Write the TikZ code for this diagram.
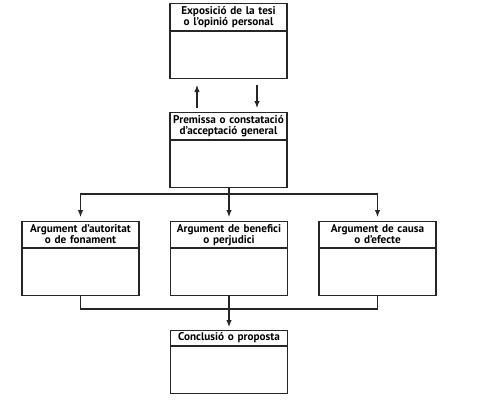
\documentclass[tikz,border=0pt]{standalone}
\usepackage{fontspec}
\setmainfont{PT Sans}
\usetikzlibrary{arrows.meta,calc}
\tikzset{
  box/.style={draw=black!85, line width=1.05pt, minimum width=117pt, inner sep=0pt, anchor=north},
  head/.style={anchor=north, text width=115pt, align=center, inner sep=0pt, font=\bfseries\fontsize{11.2}{11.2}\selectfont},
  link/.style={draw=black!85, line width=1.05pt},
  arr/.style={link, -{Latex[length=7pt,width=5.5pt]}},
}
\begin{document}
\begin{tikzpicture}[x=1pt,y=-1pt]
\useasboundingbox (0,0) rectangle (487,416);
% boxes
\node[box, minimum height=75pt] (b1) at (228.5,3) {};
\node[box, minimum height=75pt] (b2) at (228.5,112) {};
\node[box, minimum height=74pt] (a1) at (80.5,221) {};
\node[box, minimum height=74pt] (a2) at (229,221) {};
\node[box, minimum height=74pt] (a3) at (377.5,221) {};
\node[box, minimum height=63pt] (c) at (229,330) {};
% header dividers
\draw[link] ($(b1.north west)+(0,28)$) -- ($(b1.north east)+(0,28)$);
\draw[link] ($(b2.north west)+(0,28)$) -- ($(b2.north east)+(0,28)$);
\draw[link] ($(a1.north west)+(0,27)$) -- ($(a1.north east)+(0,27)$);
\draw[link] ($(a2.north west)+(0,27)$) -- ($(a2.north east)+(0,27)$);
\draw[link] ($(a3.north west)+(0,27)$) -- ($(a3.north east)+(0,27)$);
\draw[link] ($(c.north west)+(0,16)$) -- ($(c.north east)+(0,16)$);
% header texts
\node[head] (t1) at ($(b1.north)+(0,3.5)$) {Exposició de la tesi\\o l’opinió personal};
\node[head] (t2) at ($(b2.north)+(0,3.5)$) {Premissa o constatació\\d’acceptació general};
\node[head] (t3) at ($(a1.north)+(0,3.5)$) {Argument d’autoritat\\o de fonament};
\node[head] (t4) at ($(a2.north)+(0,3.5)$) {Argument de benefici\\o perjudici};
\node[head] (t5) at ($(a3.north)+(0,3.5)$) {Argument de causa\\o d’efecte};
\node[head] (t6) at ($(c.north)+(0,2.5)$) {Conclusió o proposta};
% connectors
\draw[arr] ($(b2.north)+(-31.5,-4)$) -- ($(b1.south)+(-31.5,6)$);
\draw[arr] ($(b1.south)+(28.5,6)$) -- ($(b2.north)+(28.5,-4)$);
\coordinate (j1) at (229,194);
\coordinate (j2) at (229,309);
\draw[link] (b2.south -| j1) -- (j1);
\draw[arr, shorten >=4pt] (j1) -| (a1.north);
\draw[arr, shorten >=4pt] (j1) -| (a3.north);
\draw[arr, shorten >=4pt] (j1) -- (a2.north);
\draw[link] (a1.south) |- (j2) -| (a3.south);
\draw[arr, shorten >=3pt] (a2.south) -- (c.north);
\end{tikzpicture}
\end{document}
